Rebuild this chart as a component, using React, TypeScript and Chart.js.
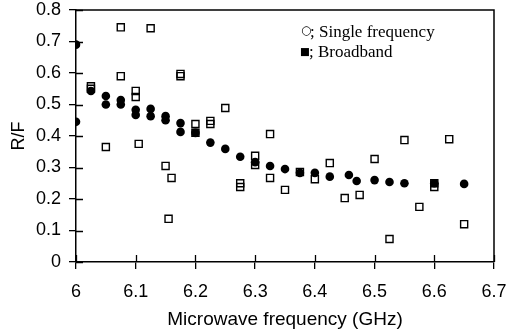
import React, { useEffect, useRef } from "react";
import { Chart, registerables } from "chart.js";

Chart.register(...registerables);

// Broadband (filled circles)
const broadbandX = [6.0, 6.0, 6.025, 6.05, 6.05, 6.075, 6.075, 6.1, 6.1, 6.125, 6.125, 6.15, 6.15, 6.175, 6.175, 6.2, 6.225, 6.25, 6.275, 6.3, 6.325, 6.35, 6.375, 6.4, 6.425, 6.457, 6.47, 6.5, 6.525, 6.55, 6.6, 6.65];
const broadbandY = [0.69, 0.445, 0.543, 0.527, 0.5, 0.514, 0.5, 0.483, 0.467, 0.486, 0.463, 0.463, 0.45, 0.441, 0.413, 0.41, 0.379, 0.359, 0.334, 0.317, 0.305, 0.295, 0.283, 0.283, 0.271, 0.276, 0.257, 0.26, 0.254, 0.25, 0.25, 0.248];

// Single frequency (open squares)
const singleX = [6.025, 6.025, 6.05, 6.075, 6.075, 6.1, 6.1, 6.105, 6.125, 6.15, 6.155, 6.16, 6.175, 6.175, 6.2, 6.2, 6.225, 6.225, 6.25, 6.275, 6.275, 6.3, 6.3, 6.325, 6.325, 6.35, 6.375, 6.4, 6.425, 6.45, 6.475, 6.5, 6.525, 6.55, 6.575, 6.6, 6.6, 6.625, 6.65];
const singleY = [0.558, 0.55, 0.365, 0.745, 0.59, 0.543, 0.524, 0.375, 0.742, 0.305, 0.137, 0.267, 0.597, 0.59, 0.438, 0.41, 0.448, 0.438, 0.489, 0.25, 0.238, 0.337, 0.308, 0.406, 0.267, 0.229, 0.286, 0.263, 0.314, 0.203, 0.213, 0.327, 0.073, 0.387, 0.175, 0.238, 0.25, 0.39, 0.12];

const xTickValues = [6.0, 6.1, 6.2, 6.3, 6.4, 6.5, 6.6, 6.7];
const xTickLabels = ["6", "6.1", "6.2", "6.3", "6.4", "6.5", "6.6", "6.7"];
const yTickValues = [0, 0.1, 0.2, 0.3, 0.4, 0.5, 0.6, 0.7, 0.8];
const yTickLabels = ["0", "0.1", "0.2", "0.3", "0.4", "0.5", "0.6", "0.7", "0.8"];

const legendLines = ["; Single frequency", "; Broadband"];
const legendSymbols = ["○", "■"];

const framePlugin = {
  id: "frame",
  afterDatasetsDraw(chart: any) {
    const { ctx, chartArea: a, scales } = chart;
    ctx.save();
    ctx.strokeStyle = "#000";
    ctx.lineWidth = 1.5;
    ctx.beginPath();
    ctx.moveTo(a.left, a.top);
    ctx.lineTo(a.right, a.top);
    ctx.lineTo(a.right, a.bottom);
    ctx.stroke();
    ctx.lineWidth = 1.3;
    ctx.beginPath();
    scales.x.ticks.forEach((t: any) => {
      const px = Math.round(scales.x.getPixelForValue(t.value)) + 0.5;
      ctx.moveTo(px, a.bottom);
      ctx.lineTo(px, a.bottom - 7);
    });
    scales.y.ticks.forEach((t: any) => {
      const py = Math.round(scales.y.getPixelForValue(t.value)) + 0.5;
      ctx.moveTo(a.left, py);
      ctx.lineTo(a.left + 7, py);
    });
    ctx.stroke();
    // legend text
    ctx.fillStyle = "#000";
    ctx.textBaseline = "alphabetic";
    ctx.textAlign = "left";
    ctx.font = "12px 'DejaVu Sans'";
    ctx.fillText(legendSymbols[0], 301, 34);
    ctx.font = "10.5px 'DejaVu Sans'";
    ctx.fillText(legendSymbols[1], 300, 55);
    ctx.font = "17px 'Liberation Serif'";
    ctx.fillText(legendLines[0], 310, 37);
    ctx.fillText(legendLines[1], 309, 57);
    ctx.restore();
  },
};

export default function App() {
  const ref = useRef<HTMLCanvasElement>(null);
  useEffect(() => {
    document.body.style.margin = "0";
    const chart = new Chart(ref.current as HTMLCanvasElement, {
      type: "scatter",
      data: {
        datasets: [
          {
            label: "Single frequency",
            data: singleX.map((x, i) => ({ x, y: singleY[i] })),
            pointStyle: "rect",
            pointRadius: 5,
            pointBorderWidth: 1.4,
            borderColor: "#000",
            backgroundColor: "rgba(0,0,0,0)",
          },
          {
            label: "Broadband",
            data: broadbandX.map((x, i) => ({ x, y: broadbandY[i] })),
            pointStyle: "circle",
            pointRadius: 4.3,
            pointBorderWidth: 0,
            borderColor: "#000",
            backgroundColor: "#000",
          },
        ],
      },
      options: {
        animation: false,
        responsive: false,
        devicePixelRatio: 1,
        layout: { padding: { left: 0, right: 16, top: 10, bottom: 0 } },
        plugins: { legend: { display: false }, tooltip: { enabled: false } },
        scales: {
          x: {
            type: "linear",
            min: 6,
            max: 6.7,
            afterBuildTicks: (s: any) => {
              s.ticks = xTickValues.map((v) => ({ value: v }));
            },
            afterFit: (s: any) => {
              s.height = 74;
              s.paddingLeft = 0;
              s.paddingRight = 0;
            },
            ticks: {
              color: "#000",
              font: { family: "'Liberation Sans'", size: 18 },
              padding: 12,
              maxRotation: 0,
              autoSkip: false,
              callback: (_v: any, i: number) => xTickLabels[i],
            },
            grid: { drawOnChartArea: false, drawTicks: true, tickLength: 7, color: "#000", lineWidth: 1.3 },
            border: { display: true, color: "#000", width: 1.5 },
            title: {
              display: true,
              text: "Microwave frequency (GHz)",
              color: "#000",
              font: { family: "'Liberation Sans'", size: 19 },
              padding: { top: 0, bottom: 5 },
            },
          },
          y: {
            type: "linear",
            min: 0,
            max: 0.8,
            afterBuildTicks: (s: any) => {
              s.ticks = yTickValues.map((v) => ({ value: v }));
            },
            afterFit: (s: any) => {
              s.width = 76;
              s.paddingTop = 0;
              s.paddingBottom = 0;
            },
            ticks: {
              color: "#000",
              font: { family: "'Liberation Sans'", size: 18 },
              padding: 8,
              autoSkip: false,
              callback: (_v: any, i: number) => yTickLabels[i],
            },
            grid: { drawOnChartArea: false, drawTicks: true, tickLength: 7, color: "#000", lineWidth: 1.3 },
            border: { display: true, color: "#000", width: 1.5 },
            title: {
              display: true,
              text: "R/F",
              color: "#000",
              font: { family: "'Liberation Sans'", size: 18 },
              padding: { top: 8, bottom: 0 },
            },
          },
        },
      },
      plugins: [framePlugin],
    } as any);
    return () => chart.destroy();
  }, []);
  return <canvas ref={ref} width={510} height={336} style={{ display: "block" }} />;
}
